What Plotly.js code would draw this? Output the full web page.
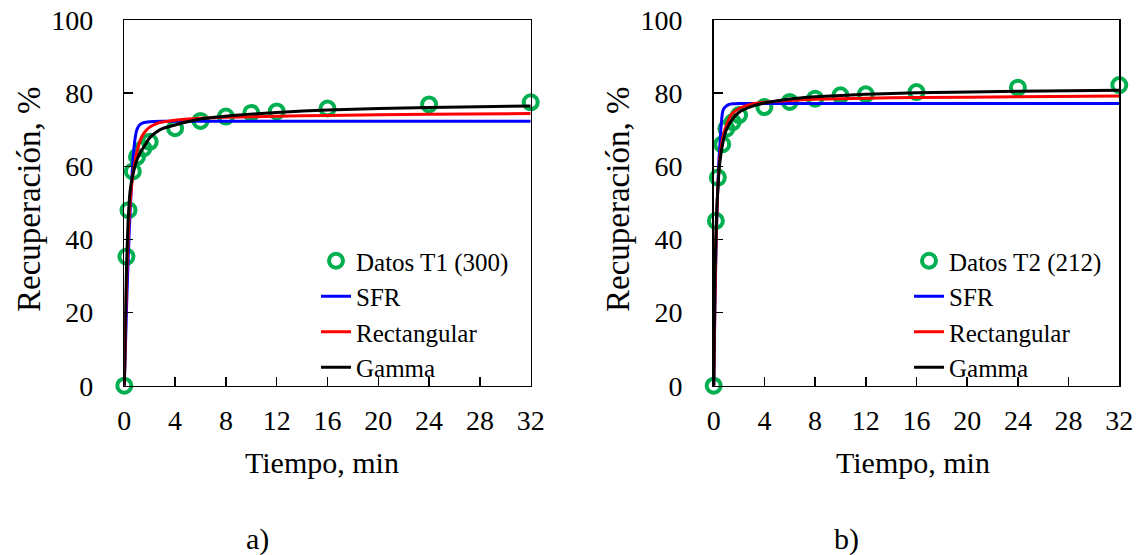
<!DOCTYPE html>
<html>
<head>
<meta charset="utf-8">
<script src="https://cdn.plot.ly/plotly-3.0.1.min.js"></script>
<style>html,body{margin:0;padding:0;background:#fff;}#chart{width:1141px;height:555px;}</style>
</head>
<body>
<div id="chart"></div>
<script>
// ---- Data ----
const xTickVals = [0, 4, 8, 12, 16, 20, 24, 28, 32];
const yTickVals = [0, 20, 40, 60, 80, 100];

// Panel a) T1 (300)
const t1DataTime = [0, 0.17, 0.33, 0.67, 1, 1.5, 2, 4, 6, 8, 10, 12, 16, 24, 32];
const t1DataRec  = [0, 35.3, 48.0, 58.6, 62.6, 64.9, 66.7, 70.4, 72.4, 73.6, 74.6, 75.0, 75.8, 76.9, 77.5];
const t1SfrTime  = [0, 0.1, 0.2, 0.3, 0.4, 0.5, 0.6, 0.7, 0.8, 0.9, 1, 1.2, 1.5, 2, 3, 32];
const t1SfrRec   = [0, 12, 24, 34, 43, 50.5, 57, 62.5, 66.3, 68.7, 70.1, 71.3, 71.9, 72.2, 72.3, 72.3];
const t1RectTime = [0, 0.1, 0.2, 0.3, 0.4, 0.6, 0.8, 1, 1.3, 1.6, 2, 2.5, 3, 4, 6, 8, 12, 16, 24, 32];
const t1RectRec  = [0, 18, 31, 40, 47, 55.5, 60.5, 64, 67.5, 69.3, 70.7, 71.6, 72.1, 72.6, 73.1, 73.4, 73.7, 73.9, 74.2, 74.4];
const t1GamTime  = [0, 0.1, 0.2, 0.3, 0.45, 0.6, 0.8, 1, 1.3, 1.6, 2, 2.5, 3, 4, 6, 8, 12, 16, 24, 32];
const t1GamRec   = [0, 22, 35, 45, 53, 56.5, 59.5, 61.8, 64, 65.6, 67.8, 69.3, 70.3, 71.3, 72.9, 73.7, 74.7, 75.4, 76.1, 76.5];

// Panel b) T2 (212)
const t2DataTime = [0, 0.17, 0.33, 0.67, 1, 1.5, 2, 4, 6, 8, 10, 12, 16, 24, 32];
const t2DataRec  = [0, 45.1, 56.9, 66.0, 70.3, 72.1, 74.0, 76.2, 77.6, 78.5, 79.4, 79.7, 80.3, 81.5, 82.2];
const t2SfrTime  = [0, 0.1, 0.2, 0.3, 0.4, 0.5, 0.6, 0.7, 0.8, 1, 1.2, 1.5, 2, 32];
const t2SfrRec   = [0, 22, 40, 52, 61, 66.5, 71.7, 74.8, 75.8, 76.5, 76.9, 77.1, 77.2, 77.2];
const t2RectTime = [0, 0.1, 0.2, 0.3, 0.4, 0.6, 0.8, 1, 1.4, 2, 3, 4, 6, 8, 12, 16, 24, 32];
const t2RectRec  = [0, 25, 42, 52, 58.5, 65.5, 69, 71.2, 74.2, 75.8, 77, 77.5, 78, 78.3, 78.6, 78.8, 79.0, 79.2];
const t2GamTime  = [0, 0.05, 0.1, 0.2, 0.3, 0.45, 0.7, 1, 1.5, 2, 3, 4, 6, 8, 12, 16, 24, 32];
const t2GamRec   = [0, 18, 30, 44, 52, 60, 66, 70, 73, 74.8, 76.4, 77.3, 78.4, 79.0, 79.7, 80.1, 80.5, 80.8];

const seriesNames = ['SFR', 'Rectangular', 'Gamma'];
const dataNames = ['Datos T1 (300)', 'Datos T2 (212)'];
const panelLabels = ['a)', 'b)'];
const axisTitleX = 'Tiempo, min';
const axisTitleY = 'Recuperación, %';

// ---- Styles ----
const FONT = 'Liberation Serif';
const GREEN = '#00B050';
const lineColors = ['#0000FF', '#FF0000', '#000000'];

function dataTrace(x, y, name, xa, ya, leg) {
  return {type: 'scatter', mode: 'markers', x: x, y: y, name: name, xaxis: xa, yaxis: ya, legend: leg,
    cliponaxis: false,
    marker: {symbol: 'circle-open', size: 14, color: GREEN, line: {width: 4, color: GREEN}}};
}
function lineTrace(x, y, i, xa, ya, leg) {
  return {type: 'scatter', mode: 'lines', x: x, y: y, name: seriesNames[i], xaxis: xa, yaxis: ya, legend: leg,
    cliponaxis: false,
    line: {color: lineColors[i], width: 3, shape: 'spline', smoothing: 0.6}};
}

const traces = [
  dataTrace(t1DataTime, t1DataRec, dataNames[0], 'x', 'y', 'legend'),
  lineTrace(t1SfrTime, t1SfrRec, 0, 'x', 'y', 'legend'),
  lineTrace(t1RectTime, t1RectRec, 1, 'x', 'y', 'legend'),
  lineTrace(t1GamTime, t1GamRec, 2, 'x', 'y', 'legend'),
  dataTrace(t2DataTime, t2DataRec, dataNames[1], 'x2', 'y2', 'legend2'),
  lineTrace(t2SfrTime, t2SfrRec, 0, 'x2', 'y2', 'legend2'),
  lineTrace(t2RectTime, t2RectRec, 1, 'x2', 'y2', 'legend2'),
  lineTrace(t2GamTime, t2GamRec, 2, 'x2', 'y2', 'legend2')
];

const W = 1141, H = 555;
const px = v => v / W;
const py = v => 1 - v / H;

function xAxis(domain, anchor) {
  return {domain: domain, anchor: anchor, range: [0, 32], tickvals: xTickVals, ticktext: xTickVals.map(String),
    ticks: 'inside', ticklen: 9, tickwidth: 1.5, tickcolor: '#000',
    showline: true, linewidth: 1.5, linecolor: '#000', mirror: true,
    showgrid: false, zeroline: false, ticklabelstandoff: 9,
    tickfont: {family: FONT, size: 28, color: '#000'}};
}
function yAxis(anchor) {
  return {domain: [py(385.7), py(20)], anchor: anchor, range: [0, 100], tickvals: yTickVals, ticktext: yTickVals.map(String),
    ticks: 'inside', ticklen: 9, tickwidth: 1.5, tickcolor: '#000',
    showline: true, linewidth: 1.5, linecolor: '#000', mirror: true,
    showgrid: false, zeroline: false, ticklabelstandoff: 24,
    tickfont: {family: FONT, size: 28, color: '#000'}};
}

const legendBase = {font: {family: FONT, size: 25, color: '#000'}, bgcolor: 'rgba(0,0,0,0)', borderwidth: 0,
  yanchor: 'middle', xanchor: 'left', tracegroupgap: 0, itemwidth: 30};

const annFont = {family: FONT, size: 30, color: '#000'};
const annotations = [
  {text: axisTitleX, xref: 'paper', yref: 'paper', x: px(322), y: py(462), showarrow: false, font: annFont, xanchor: 'center', yanchor: 'middle'},
  {text: axisTitleX, xref: 'paper', yref: 'paper', x: px(913), y: py(462), showarrow: false, font: annFont, xanchor: 'center', yanchor: 'middle'},
  {text: axisTitleY, xref: 'paper', yref: 'paper', x: px(29), y: py(200), textangle: -90, showarrow: false, font: {family: FONT, size: 33, color: '#000'}, xanchor: 'center', yanchor: 'middle'},
  {text: axisTitleY, xref: 'paper', yref: 'paper', x: px(618), y: py(200), textangle: -90, showarrow: false, font: {family: FONT, size: 33, color: '#000'}, xanchor: 'center', yanchor: 'middle'},
  {text: panelLabels[0], xref: 'paper', yref: 'paper', x: px(257), y: py(539), showarrow: false, font: annFont, xanchor: 'center', yanchor: 'middle'},
  {text: panelLabels[1], xref: 'paper', yref: 'paper', x: px(846), y: py(539), showarrow: false, font: annFont, xanchor: 'center', yanchor: 'middle'}
];

const layout = {
  width: W, height: H, autosize: false,
  margin: {l: 0, r: 0, t: 0, b: 0, pad: 0},
  paper_bgcolor: '#fff', plot_bgcolor: '#fff',
  font: {family: FONT, color: '#000'},
  showlegend: true,
  xaxis: xAxis([px(124.3), px(530.7)], 'y'),
  yaxis: yAxis('x'),
  xaxis2: xAxis([px(713.7), px(1119.3)], 'y2'),
  yaxis2: yAxis('x2'),
  legend: Object.assign({}, legendBase, {x: px(316), y: py(314)}),
  legend2: Object.assign({}, legendBase, {x: px(909), y: py(314)}),
  annotations: annotations
};

Plotly.newPlot('chart', traces, layout, {displayModeBar: false, staticPlot: true});
</script>
</body>
</html>
